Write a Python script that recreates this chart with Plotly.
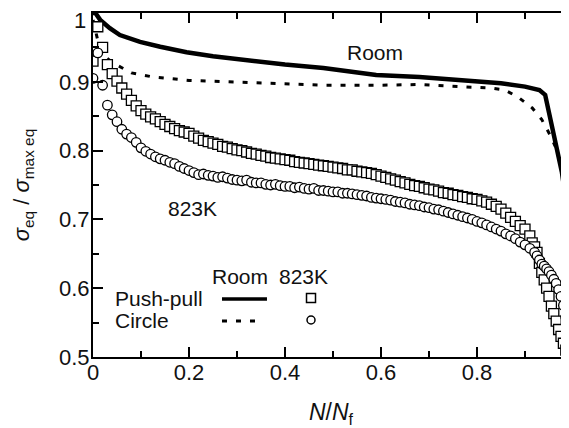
import plotly.graph_objects as go

# ---------------- data ----------------
# Room temperature, push-pull (solid line)
room_pp_x = [0.0, 0.005, 0.015, 0.035, 0.056, 0.098, 0.14, 0.195, 0.25, 0.34, 0.40, 0.48,
             0.59, 0.68, 0.765, 0.85, 0.90, 0.93, 0.942, 0.952, 0.967, 0.977, 0.983, 0.988,
             0.992, 1.0]
room_pp_y = [1.0, 1.0, 0.99, 0.978, 0.968, 0.958, 0.951, 0.943, 0.937, 0.929, 0.925, 0.92,
             0.91, 0.907, 0.903, 0.898, 0.893, 0.888, 0.881, 0.849, 0.801, 0.768, 0.739, 0.70,
             0.63, 0.50]

# Room temperature, circle (dashed line)
room_ci_x = [0.0, 0.01, 0.02, 0.04, 0.08, 0.125, 0.2, 0.34, 0.48, 0.59, 0.68, 0.765, 0.827,
             0.858, 0.885, 0.915, 0.935, 0.952, 0.967, 0.978, 0.988, 1.0]
room_ci_y = [0.99, 0.96, 0.94, 0.928, 0.913, 0.907, 0.902, 0.898, 0.895, 0.895, 0.896, 0.893,
             0.891, 0.888, 0.878, 0.862, 0.845, 0.823, 0.80, 0.765, 0.70, 0.52]

# 823K, push-pull (squares)
k823_pp_x = [0.00, 0.01, 0.02, 0.03, 0.04, 0.05, 0.06, 0.07, 0.08, 0.09,
             0.10, 0.11, 0.12, 0.13, 0.14, 0.15, 0.16, 0.17, 0.18, 0.19,
             0.20, 0.21, 0.22, 0.23, 0.24, 0.25, 0.26, 0.27, 0.28, 0.29,
             0.30, 0.31, 0.32, 0.33, 0.34, 0.35, 0.36, 0.37, 0.38, 0.39,
             0.40, 0.41, 0.42, 0.43, 0.44, 0.45, 0.46, 0.47, 0.48, 0.49,
             0.50, 0.51, 0.52, 0.53, 0.54, 0.55, 0.56, 0.57, 0.58, 0.59,
             0.60, 0.61, 0.62, 0.63, 0.64, 0.65, 0.66, 0.67, 0.68, 0.69,
             0.70, 0.71, 0.72, 0.73, 0.74, 0.75, 0.76, 0.77, 0.78, 0.79,
             0.80, 0.81, 0.82, 0.83, 0.84, 0.85, 0.86, 0.87, 0.88, 0.89,
             0.90, 0.91, 0.915, 0.92, 0.925, 0.93, 0.935, 0.94, 0.945, 0.95,
             0.955, 0.96, 0.965, 0.97, 0.975, 0.98, 0.985, 0.99]
k823_pp_y = [0.930, 0.980, 0.950, 0.925, 0.912, 0.901, 0.891, 0.882, 0.873, 0.865,
             0.858, 0.853, 0.849, 0.846, 0.842, 0.838, 0.835, 0.832, 0.829, 0.827,
             0.825, 0.821, 0.818, 0.815, 0.813, 0.811, 0.809, 0.806, 0.805, 0.803,
             0.801, 0.800, 0.798, 0.796, 0.795, 0.793, 0.792, 0.790, 0.789, 0.788,
             0.787, 0.786, 0.784, 0.783, 0.782, 0.781, 0.780, 0.779, 0.778, 0.777,
             0.776, 0.775, 0.774, 0.772, 0.772, 0.770, 0.769, 0.768, 0.767, 0.765,
             0.763, 0.761, 0.759, 0.757, 0.755, 0.753, 0.751, 0.749, 0.748, 0.746,
             0.744, 0.743, 0.741, 0.739, 0.738, 0.736, 0.735, 0.733, 0.732, 0.730,
             0.729, 0.727, 0.725, 0.722, 0.719, 0.715, 0.709, 0.703, 0.697, 0.691,
             0.686, 0.676, 0.666, 0.660, 0.652, 0.636, 0.623, 0.612, 0.600, 0.588,
             0.574, 0.563, 0.552, 0.540, 0.530, 0.520, 0.510, 0.502]

# 823K, circle (open circles)
k823_ci_x = [0.00, 0.01, 0.02, 0.03, 0.04, 0.05, 0.06, 0.07, 0.08, 0.09,
             0.10, 0.11, 0.12, 0.13, 0.14, 0.15, 0.16, 0.17, 0.18, 0.19,
             0.20, 0.21, 0.22, 0.23, 0.24, 0.25, 0.26, 0.27, 0.28, 0.29,
             0.30, 0.31, 0.32, 0.33, 0.34, 0.35, 0.36, 0.37, 0.38, 0.39,
             0.40, 0.41, 0.42, 0.43, 0.44, 0.45, 0.46, 0.47, 0.48, 0.49,
             0.50, 0.51, 0.52, 0.53, 0.54, 0.55, 0.56, 0.57, 0.58, 0.59,
             0.60, 0.61, 0.62, 0.63, 0.64, 0.65, 0.66, 0.67, 0.68, 0.69,
             0.70, 0.71, 0.72, 0.73, 0.74, 0.75, 0.76, 0.77, 0.78, 0.79,
             0.80, 0.81, 0.82, 0.83, 0.84, 0.85, 0.86, 0.87, 0.88, 0.89,
             0.90, 0.91, 0.92, 0.925, 0.93, 0.935, 0.94, 0.945, 0.95, 0.955,
             0.96, 0.965, 0.97, 0.975, 0.98, 0.985, 0.99, 0.995]
k823_ci_y = [0.905, 0.942, 0.895, 0.866, 0.852, 0.842, 0.831, 0.824, 0.819, 0.812,
             0.804, 0.799, 0.795, 0.791, 0.788, 0.786, 0.783, 0.781, 0.777, 0.774,
             0.771, 0.768, 0.765, 0.766, 0.764, 0.763, 0.761, 0.762, 0.760, 0.758,
             0.757, 0.756, 0.757, 0.754, 0.753, 0.753, 0.751, 0.750, 0.751, 0.749,
             0.748, 0.748, 0.746, 0.747, 0.745, 0.744, 0.745, 0.742, 0.742, 0.741,
             0.740, 0.740, 0.738, 0.738, 0.737, 0.736, 0.735, 0.734, 0.732, 0.731,
             0.730, 0.729, 0.728, 0.726, 0.725, 0.724, 0.722, 0.721, 0.720, 0.718,
             0.717, 0.715, 0.714, 0.712, 0.710, 0.708, 0.706, 0.704, 0.702, 0.700,
             0.697, 0.695, 0.692, 0.689, 0.686, 0.683, 0.679, 0.676, 0.672, 0.667,
             0.663, 0.658, 0.652, 0.647, 0.641, 0.635, 0.632, 0.628, 0.624, 0.619,
             0.613, 0.607, 0.598, 0.588, 0.575, 0.558, 0.540, 0.520]

x_tickvals = [0, 0.2, 0.4, 0.6, 0.8]
x_ticktext = ["0", "0.2", "0.4", "0.6", "0.8"]
y_tickvals = [0.5, 0.6, 0.7, 0.8, 0.9, 1.0]
y_ticktext = ["0.5", "0.6", "0.7", "0.8", "0.9", ""]   # "1" is placed separately below
y_top_label = "1"

# ---------------- figure ----------------
FONT = "Liberation Sans, Arial, sans-serif"
FS = 21
TFS = 22
INK = "#111111"
XR = [0, 476 / 480]
YR = [0.5, 1.0]

fig = go.Figure()

fig.add_trace(go.Scatter(x=room_ci_x, y=room_ci_y, mode="lines",
                         line=dict(color="black", width=3, dash="5px,9px"),
                         showlegend=False, hoverinfo="skip"))
fig.add_trace(go.Scatter(x=room_pp_x, y=room_pp_y, mode="lines",
                         line=dict(color="black", width=4.5),
                         showlegend=False, hoverinfo="skip"))
fig.add_trace(go.Scatter(x=k823_pp_x, y=k823_pp_y, mode="markers",
                         marker=dict(symbol="square", size=10, color="white",
                                     line=dict(color="black", width=1.3)),
                         showlegend=False, hoverinfo="skip"))
fig.add_trace(go.Scatter(x=k823_ci_x, y=k823_ci_y, mode="markers",
                         marker=dict(symbol="circle", size=9.5, color="white",
                                     line=dict(color="black", width=1.3)),
                         showlegend=False, hoverinfo="skip"))
# invisible trace to activate the top and right-hand tick axes
fig.add_trace(go.Scatter(x=[None], y=[None], xaxis="x2", yaxis="y2",
                         showlegend=False, hoverinfo="skip"))

axis_common = dict(
    showline=True, linecolor="black", linewidth=2, automargin=False,
    ticks="inside", tickcolor="black", tickwidth=2, ticklen=10,
    showgrid=False, zeroline=False, ticklabeloverflow="allow",
    tickfont=dict(family=FONT, size=TFS, color=INK),
)

# the page body adds an 8 px offset, so the figure is 8 px narrower/shorter
fig.update_layout(
    width=561, height=420,
    margin=dict(l=85, r=0, t=5, b=71, autoexpand=False),
    paper_bgcolor="white", plot_bgcolor="white",
    font=dict(family=FONT, size=FS, color=INK),
    xaxis=dict(range=XR, tickvals=x_tickvals, ticktext=x_ticktext,
               ticklabelstandoff=-5,
               minor=dict(dtick=0.1, tick0=0, ticks="inside", ticklen=6,
                          tickwidth=2, tickcolor="black"),
               title=dict(text="<i>N</i>/<i>N</i><sub>f</sub>",
                          font=dict(family=FONT, size=23, color=INK), standoff=31),
               **axis_common),
    xaxis2=dict(range=XR, overlaying="x", side="top", anchor="y",
                automargin=False, tickvals=x_tickvals, showticklabels=False,
                showline=True, linecolor="black", linewidth=2,
                ticks="inside", ticklen=10, tickwidth=2, tickcolor="black",
                minor=dict(dtick=0.1, tick0=0, ticks="inside", ticklen=6,
                           tickwidth=2, tickcolor="black"),
                showgrid=False, zeroline=False),
    yaxis=dict(range=YR, tickvals=y_tickvals, ticktext=y_ticktext,
               ticklabelstandoff=-3,
               minor=dict(dtick=0.05, tick0=0.5, ticks="inside", ticklen=6,
                          tickwidth=2, tickcolor="black"),
               title=dict(text="<i>σ</i><sub>eq</sub> / <i>σ</i><sub>max eq</sub>",
                          font=dict(family=FONT, size=TFS, color=INK), standoff=23),
               **axis_common),
    yaxis2=dict(range=YR, overlaying="y", side="right", anchor="x",
                automargin=False,
                tickvals=y_tickvals, showticklabels=False, showline=False,
                ticks="inside", ticklen=6, tickwidth=2, tickcolor="black",
                minor=dict(dtick=0.05, tick0=0.5, ticks="inside", ticklen=2,
                           tickwidth=2, tickcolor="black"),
                showgrid=False, zeroline=False),
)


def label(text, x, y, xanchor="center", size=FS, pad=1):
    fig.add_annotation(text=text, x=x, y=y, xref="paper", yref="paper",
                       xanchor=xanchor, yanchor="middle", showarrow=False,
                       borderpad=pad,
                       font=dict(family=FONT, size=size, color=INK))


# top y tick label, nudged just below the top spine as in the original
label(y_top_label, -0.012, 0.979, xanchor="right", size=TFS, pad=0)

# in-plot labels
label("Room", 0.5924, 0.884)
label("823K", 0.21, 0.433)

# hand-made key
label("Room", 0.309, 0.2326)
label("823K", 0.443, 0.2326)
label("Push-pull", 0.042, 0.1715, xanchor="left")
label("Circle", 0.042, 0.1047, xanchor="left")

fig.add_shape(type="line", xref="paper", yref="paper", x0=0.271, x1=0.3655,
              y0=0.1686, y1=0.1686, line=dict(color="black", width=3.5))
fig.add_shape(type="line", xref="paper", yref="paper", x0=0.271, x1=0.358,
              y0=0.1047, y1=0.1047, line=dict(color="black", width=3, dash="5px,9px"))
fig.add_shape(type="rect", xref="paper", yref="paper", xsizemode="pixel",
              ysizemode="pixel", xanchor=0.458, yanchor=0.1715,
              x0=-4.5, x1=4.5, y0=-4.5, y1=4.5,
              line=dict(color="black", width=1.5), fillcolor="white")
fig.add_shape(type="circle", xref="paper", yref="paper", xsizemode="pixel",
              ysizemode="pixel", xanchor=0.458, yanchor=0.1076,
              x0=-4, x1=4, y0=-4, y1=4,
              line=dict(color="black", width=1.5), fillcolor="white")

fig.write_html("out.html")
